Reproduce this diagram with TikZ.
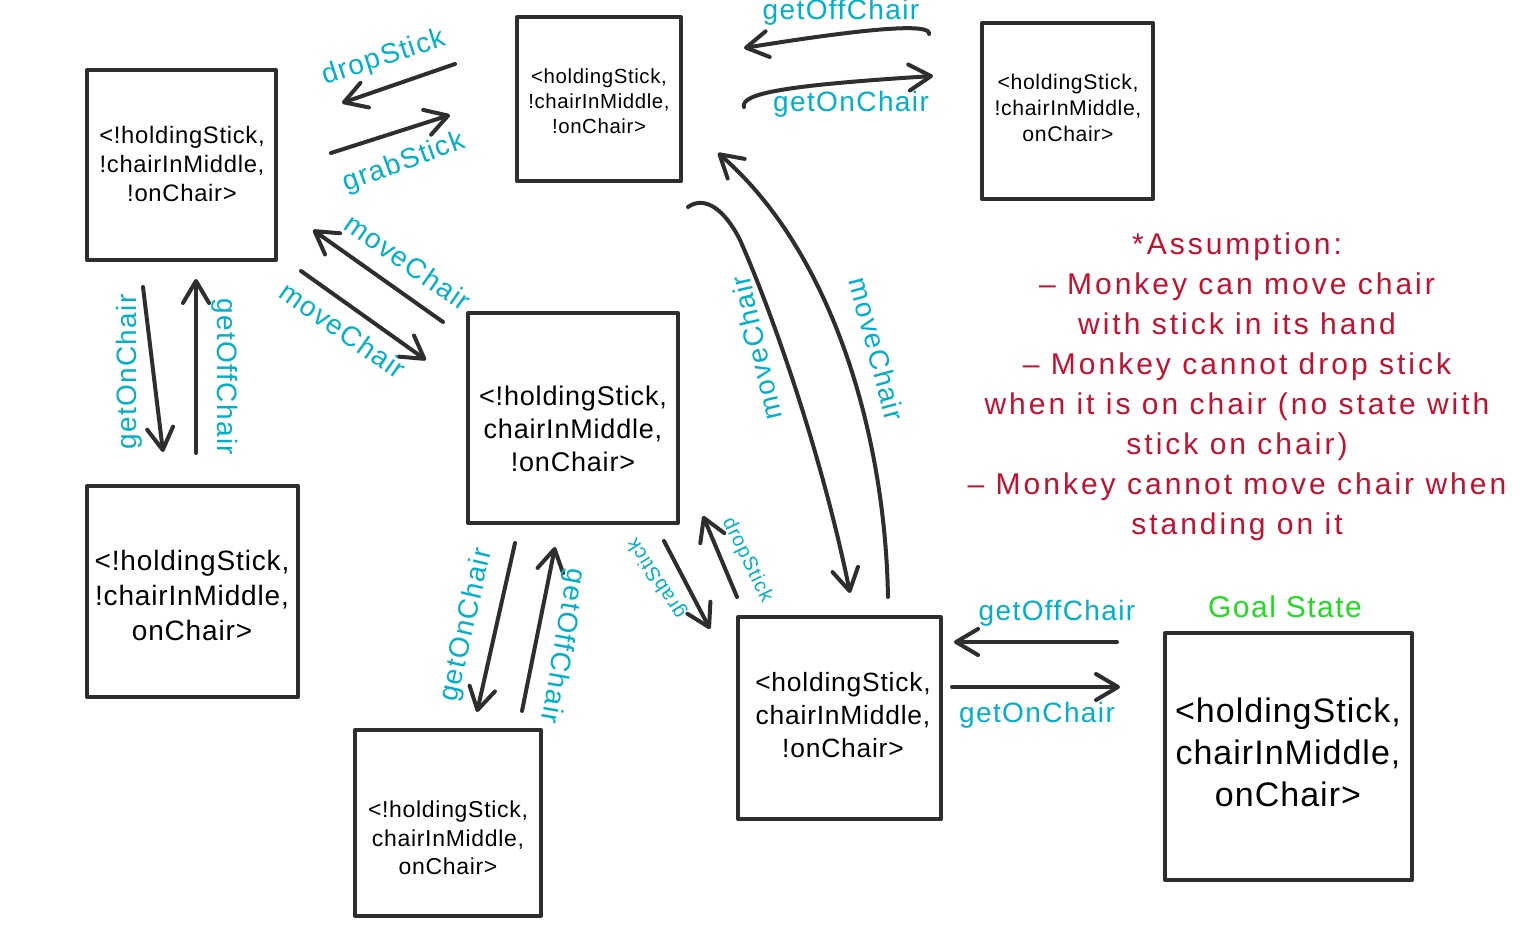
\documentclass[tikz,border=0pt]{standalone}
\usepackage{fontspec}
\setmainfont{Liberation Sans}
\newfontfamily\boxfont[LetterSpace=3]{Liberation Sans}
\newfontfamily\lblfont[LetterSpace=5]{Liberation Sans}
\newfontfamily\notefont[LetterSpace=10]{Liberation Sans}
\usetikzlibrary{arrows.meta}
\definecolor{lc}{HTML}{2E2E2E}
\definecolor{cy}{HTML}{00B0C8}
\definecolor{rd}{HTML}{C4102E}
\definecolor{gr}{HTML}{1EDC1E}
\begin{document}
\begin{tikzpicture}[x=0.5pt,y=-0.5pt,
  sbox/.style={draw=lc, line width=2pt, line join=round, inner sep=0pt},
  btxt/.style={align=center, inner sep=0pt, text=black},
  arr/.style={draw=lc, line width=2pt, line cap=round, line join=round,
    -{Straight Barb[length=11pt,width=13pt,round]}},
  lbl/.style={text=cy, inner sep=0pt, font=\lblfont\fontsize{14pt}{16pt}\selectfont},
  slbl/.style={text=cy, inner sep=0pt, font=\lblfont\fontsize{10pt}{12pt}\selectfont}]
\useasboundingbox (0,0) rectangle (1536,940);

% boxes
\node[sbox, minimum width=94.5pt, minimum height=95pt] (b1) at (181.5,165) {};
\node[sbox, minimum width=82pt, minimum height=82pt] (b2) at (599,99) {};
\node[sbox, minimum width=85.5pt, minimum height=88pt] (b3) at (1067.5,111) {};
\node[sbox, minimum width=105.5pt, minimum height=105.5pt] (b4) at (192.5,591.5) {};
\node[sbox, minimum width=105pt, minimum height=105pt] (b5) at (573,418) {};
\node[sbox, minimum width=93pt, minimum height=93pt] (b6) at (448,823) {};
\node[sbox, minimum width=101.5pt, minimum height=101pt] (b7) at (839.5,718) {};
\node[sbox, minimum width=123.5pt, minimum height=123.5pt] (b8) at (1288.5,756.5) {};

% box texts
\node[btxt, font=\boxfont\fontsize{11.9pt}{14.5pt}\selectfont] (t1) at (182,164) {<!holdingStick,\\!chairInMiddle,\\!onChair>};
\node[btxt, font=\boxfont\fontsize{10.2pt}{12.5pt}\selectfont] (t2) at (599,101) {<holdingStick,\\!chairInMiddle,\\!onChair>};
\node[btxt, font=\boxfont\fontsize{10.6pt}{13pt}\selectfont] (t3) at (1068,108) {<holdingStick,\\!chairInMiddle,\\onChair>};
\node[btxt, font=\boxfont\fontsize{14pt}{17.5pt}\selectfont] (t4) at (192,595) {<!holdingStick,\\!chairInMiddle,\\onChair>};
\node[btxt, font=\boxfont\fontsize{13.5pt}{16.5pt}\selectfont] (t5) at (573,429) {<!holdingStick,\\chairInMiddle,\\!onChair>};
\node[btxt, font=\boxfont\fontsize{11.5pt}{14.25pt}\selectfont] (t6) at (448,838) {<!holdingStick,\\chairInMiddle,\\onChair>};
\node[btxt, font=\boxfont\fontsize{13.2pt}{16.5pt}\selectfont] (t7) at (843,715) {<holdingStick,\\chairInMiddle,\\!onChair>};
\node[btxt, font=\boxfont\fontsize{17pt}{21pt}\selectfont] (t8) at (1288,752) {<holdingStick,\\chairInMiddle,\\onChair>};

% arrow end points
\coordinate (a1s) at (455,64);  \coordinate (a1e) at (342,103);
\coordinate (a2s) at (331,153); \coordinate (a2e) at (450,115);
\coordinate (a3s) at (929,34);  \coordinate (a3e) at (744,48);
\coordinate (a4s) at (744,107); \coordinate (a4e) at (933,76);
\coordinate (a5s) at (143,287); \coordinate (a5e) at (163,452);
\coordinate (a6s) at (196,453); \coordinate (a6e) at (196,279);
\coordinate (a7s) at (443,322); \coordinate (a7e) at (313,230);
\coordinate (a8s) at (301,271); \coordinate (a8e) at (426,360);
\coordinate (a9s) at (515,543); \coordinate (a9e) at (477,712);
\coordinate (a10s) at (522,711); \coordinate (a10e) at (555,547);
\coordinate (a11s) at (664,541); \coordinate (a11e) at (710,629);
\coordinate (a12s) at (737,597); \coordinate (a12e) at (703,516);
\coordinate (a13s) at (688,207); \coordinate (a13m) at (740,240); \coordinate (a13e) at (850,593);
\coordinate (a14s) at (888,597); \coordinate (a14e) at (718,153);
\coordinate (a15s) at (1117,642); \coordinate (a15e) at (954,642);
\coordinate (a16s) at (952,687); \coordinate (a16e) at (1120,687);

% arrows
\draw[arr] (a1s) -- (a1e);
\draw[arr] (a2s) -- (a2e);
\draw[arr] (a3s) .. controls (931,24) and (880,26) .. (a3e);
\draw[arr] (a4s) .. controls (740,93) and (790,85) .. (a4e);
\draw[arr] (a5s) -- (a5e);
\draw[arr] (a6s) -- (a6e);
\draw[arr] (a7s) -- (a7e);
\draw[arr] (a8s) -- (a8e);
\draw[arr] (a9s) -- (a9e);
\draw[arr] (a10s) -- (a10e);
\draw[arr] (a11s) -- (a11e);
\draw[arr] (a12s) -- (a12e);
\draw[arr] (a13s) .. controls (705,195) and (725,210) .. (a13m) .. controls (772,312) and (822,455) .. (a13e);
\draw[arr] (a14s) .. controls (885,430) and (830,250) .. (a14e);
\draw[arr] (a15s) -- (a15e);
\draw[arr] (a16s) -- (a16e);

% labels
\node[lbl, rotate=18] (l1) at (384,58) {dropStick};
\node[lbl, rotate=20] (l2) at (404,163) {grabStick};
\node[lbl] (l3) at (841,12) {getOffChair};
\node[lbl] (l4) at (851,104) {getOnChair};
\node[lbl, rotate=-35] (l5) at (408,262) {moveChair};
\node[lbl, rotate=-35] (l6) at (343,330) {moveChair};
\node[lbl, rotate=90] (l7) at (129,372) {getOnChair};
\node[lbl, rotate=-90] (l8) at (225,377) {getOffChair};
\node[lbl, rotate=77] (l9) at (467,625) {getOnChair};
\node[lbl, rotate=-100] (l10) at (562,646) {getOffChair};
\node[slbl, rotate=123] (l11) at (657,578) {grabStick};
\node[slbl, rotate=-64] (l12) at (747,560) {dropStick};
\node[lbl, rotate=103] (l13) at (756,348) {moveChair};
\node[lbl, rotate=-75] (l14) at (877,349) {moveChair};
\node[lbl] (l15) at (1057,613) {getOffChair};
\node[lbl] (l16) at (1037,715) {getOnChair};
\node[text=gr, inner sep=0pt, font=\lblfont\fontsize{15pt}{17pt}\selectfont] (goal) at (1285,607) {Goal State};

% note
\node[text=rd, align=center, inner sep=0pt, font=\notefont\fontsize{15pt}{20pt}\selectfont] (note) at (1237,387)
 {*Assumption:\\– Monkey can move chair\\with stick in its hand\\– Monkey cannot drop stick\\when it is on chair (no state with\\stick on chair)\\– Monkey cannot move chair when\\standing on it};
\end{tikzpicture}
\end{document}
